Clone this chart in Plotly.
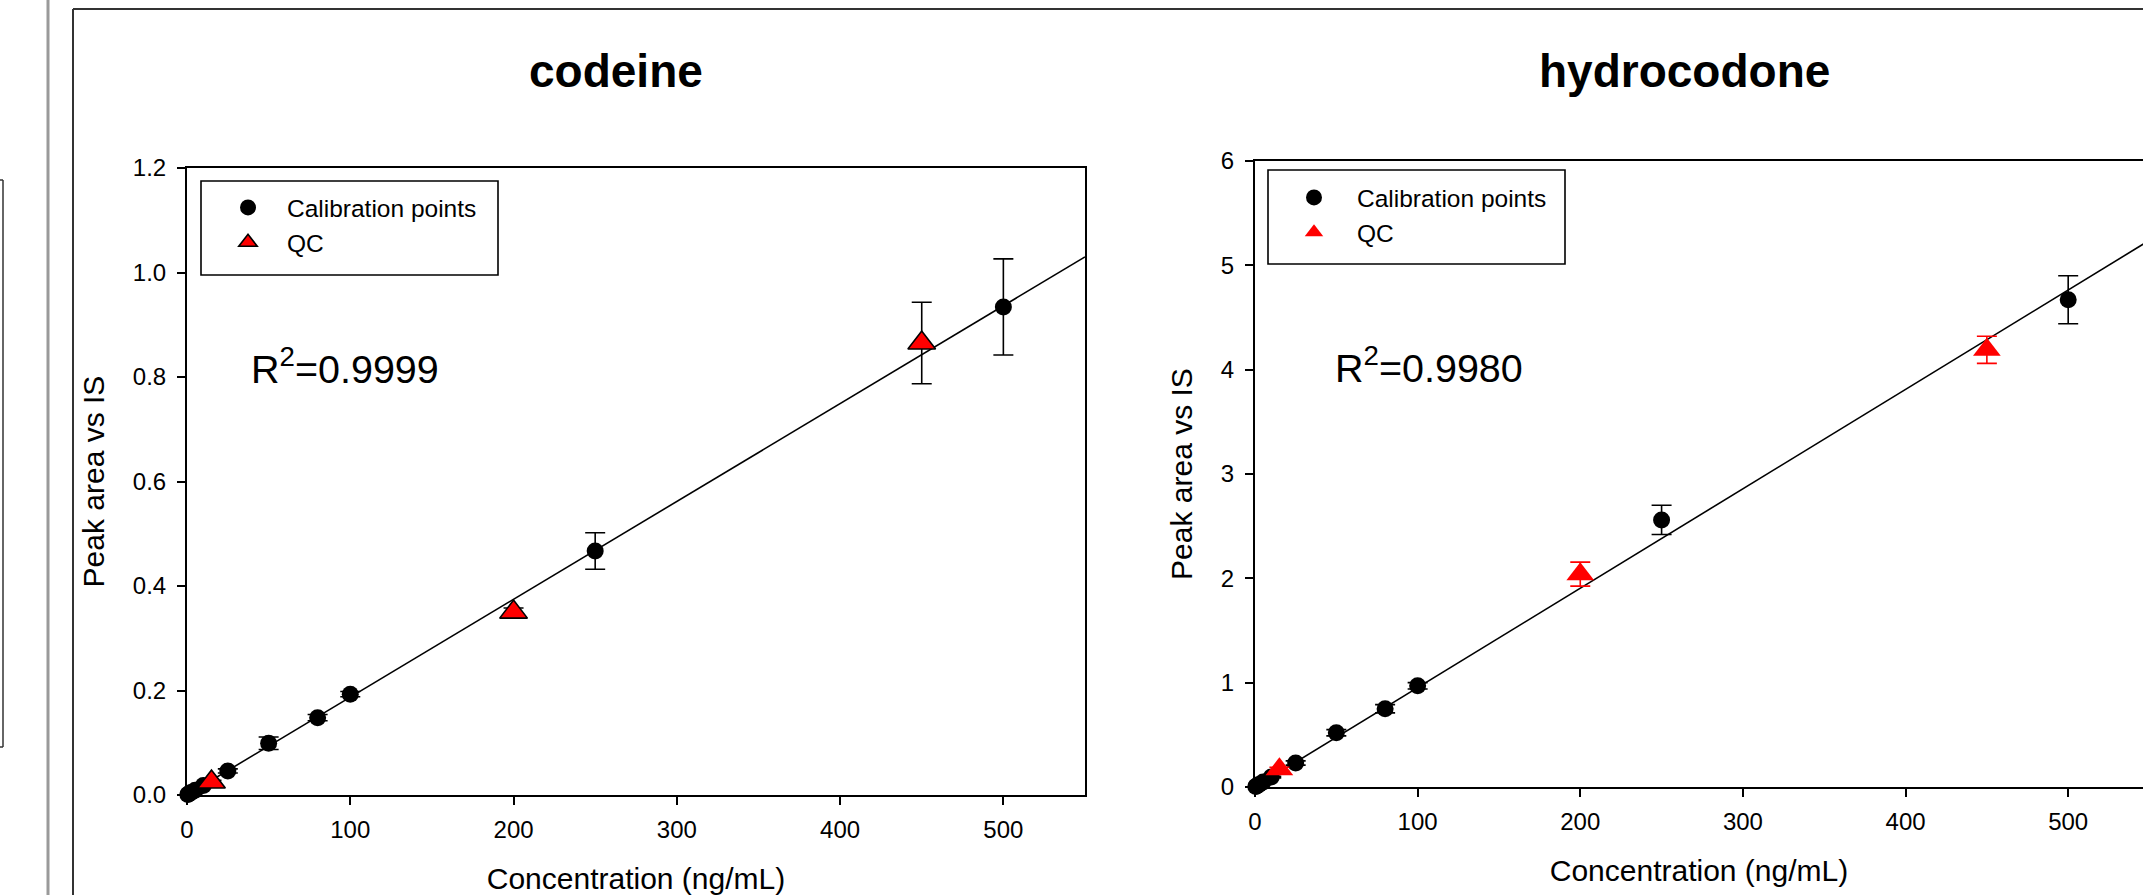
import plotly.graph_objects as go

W, H = 2143, 895

# ---- data ----
conc_cal = [0.5, 1, 2.5, 5, 10, 25, 50, 80, 100, 250, 500]
conc_qc = [15, 200, 450]

codeine_cal_y = [0.001, 0.002, 0.005, 0.009, 0.018, 0.046, 0.099, 0.148, 0.193, 0.467, 0.934]
codeine_cal_err = [0.0005, 0.0005, 0.001, 0.001, 0.002, 0.004, 0.012, 0.006, 0.005, 0.035, 0.092]
codeine_qc_y = [0.025, 0.350, 0.865]
codeine_qc_err = [0.003, 0.008, 0.078]
codeine_fit_x = [0, 550]
codeine_fit_y = [0.0, 1.03]
codeine_r2 = "0.9999"

hydro_cal_y = [0.005, 0.010, 0.024, 0.048, 0.095, 0.23, 0.52, 0.75, 0.97, 2.56, 4.67]
hydro_cal_err = [0.002, 0.003, 0.004, 0.005, 0.008, 0.02, 0.03, 0.04, 0.03, 0.14, 0.23]
hydro_qc_y = [0.17, 2.04, 4.19]
hydro_qc_err = [0.02, 0.115, 0.13]
hydro_fit_x = [0, 550]
hydro_fit_y = [0.0, 5.24]
hydro_r2 = "0.9980"

titles = ["codeine", "hydrocodone"]
x_title = "Concentration (ng/mL)"
y_title = "Peak area vs IS"
x_ticks = [0, 100, 200, 300, 400, 500]
codeine_y_ticks = [0.0, 0.2, 0.4, 0.6, 0.8, 1.0, 1.2]
hydro_y_ticks = [0, 1, 2, 3, 4, 5, 6]

FONT = "Liberation Sans, Arial, sans-serif"

def px(x):
    return x / W

def py(y):
    return 1 - y / H

fig = go.Figure()

# codeine
fig.add_trace(go.Scatter(x=codeine_fit_x, y=codeine_fit_y, mode="lines",
                         line=dict(color="black", width=1.6), showlegend=False,
                         xaxis="x", yaxis="y", hoverinfo="skip"))
fig.add_trace(go.Scatter(x=conc_cal, y=codeine_cal_y, mode="markers", name="Calibration points",
                         marker=dict(symbol="circle", size=17, color="black"),
                         error_y=dict(type="data", array=codeine_cal_err, color="black", thickness=1.6, width=10),
                         xaxis="x", yaxis="y", legend="legend", cliponaxis=False))
fig.add_trace(go.Scatter(x=conc_qc, y=codeine_qc_y, mode="markers", name="QC",
                         marker=dict(symbol="triangle-up", size=24, color="red",
                                     line=dict(color="black", width=1.6)),
                         error_y=dict(type="data", array=codeine_qc_err, color="black", thickness=1.6, width=10),
                         xaxis="x", yaxis="y", legend="legend", cliponaxis=False))

# hydrocodone
fig.add_trace(go.Scatter(x=hydro_fit_x, y=hydro_fit_y, mode="lines",
                         line=dict(color="black", width=1.6), showlegend=False,
                         xaxis="x2", yaxis="y2", hoverinfo="skip"))
fig.add_trace(go.Scatter(x=conc_cal, y=hydro_cal_y, mode="markers", name="Calibration points",
                         marker=dict(symbol="circle", size=17, color="black"),
                         error_y=dict(type="data", array=hydro_cal_err, color="black", thickness=1.6, width=10),
                         xaxis="x2", yaxis="y2", legend="legend2", cliponaxis=False))
fig.add_trace(go.Scatter(x=conc_qc, y=hydro_qc_y, mode="markers", name="QC",
                         marker=dict(symbol="triangle-up", size=24, color="red"),
                         error_y=dict(type="data", array=hydro_qc_err, color="red", thickness=1.6, width=10),
                         xaxis="x2", yaxis="y2", legend="legend2", cliponaxis=False))

axis_common = dict(showgrid=False, zeroline=False, showline=True, linecolor="black", linewidth=2,
                   ticks="outside", ticklen=8, tickwidth=1.6, tickcolor="black", automargin=False,
                   tickfont=dict(family=FONT, size=24, color="black"))
title_font = dict(family=FONT, size=30, color="black")

fig.update_layout(
    template="none",
    width=W, height=H, autosize=False,
    margin=dict(l=0, r=0, t=0, b=0, pad=0, autoexpand=False),
    paper_bgcolor="white", plot_bgcolor="white",
    font=dict(family=FONT, color="black"),
    xaxis=dict(domain=[px(187), px(1085)], range=[0, 550], anchor="y", mirror=True,
               tickvals=x_ticks, ticklabelstandoff=4,
               title=dict(text=x_title, font=title_font, standoff=52),
               **axis_common),
    yaxis=dict(domain=[py(795), py(168)], range=[0, 1.2], anchor="x", mirror=True,
               tickvals=codeine_y_ticks, tickformat=".1f", ticklabelstandoff=6,
               title=dict(text=y_title, font=title_font, standoff=19),
               **axis_common),
    xaxis2=dict(domain=[px(1255), 1.0], range=[0, 546], anchor="y2", mirror=True,
                tickvals=x_ticks, ticklabelstandoff=4,
                title=dict(text=x_title, font=title_font, standoff=26),
                **axis_common),
    yaxis2=dict(domain=[py(787), py(161)], range=[0, 6], anchor="x2", mirror=False,
                tickvals=hydro_y_ticks, ticklabelstandoff=6,
                title=dict(text=y_title, font=title_font, standoff=19),
                **axis_common),
    legend=dict(x=px(209), y=py(185), xanchor="left", yanchor="top", bgcolor="rgba(0,0,0,0)",
                borderwidth=0, itemwidth=68, font=dict(family=FONT, size=24.5, color="black"),
                tracegroupgap=0),
    legend2=dict(x=px(1271), y=py(175), xanchor="left", yanchor="top", bgcolor="rgba(0,0,0,0)",
                 borderwidth=0, itemwidth=76, font=dict(family=FONT, size=24.5, color="black"),
                 tracegroupgap=0),
    showlegend=True,
)

# titles and R^2 labels
fig.add_annotation(x=px(616), y=py(71), xref="paper", yref="paper", xanchor="center", yanchor="middle",
                   text="<b>%s</b>" % titles[0], showarrow=False,
                   font=dict(family=FONT, size=46, color="black"))
fig.add_annotation(x=px(1684), y=py(71), xref="paper", yref="paper", xanchor="center", yanchor="middle",
                   text="<b>%s</b>" % titles[1], showarrow=False,
                   font=dict(family=FONT, size=46, color="black"))
fig.add_annotation(x=px(249), y=py(366), xref="paper", yref="paper", xanchor="left", yanchor="middle",
                   text="R<sup>2</sup>=" + codeine_r2, showarrow=False,
                   font=dict(family=FONT, size=39.5, color="black"))
fig.add_annotation(x=px(1333), y=py(365), xref="paper", yref="paper", xanchor="left", yanchor="middle",
                   text="R<sup>2</sup>=" + hydro_r2, showarrow=False,
                   font=dict(family=FONT, size=39.5, color="black"))

# frame decorations and legend boxes
shapes = [
    dict(type="line", x0=px(48), x1=px(48), y0=0, y1=1, line=dict(color="#9a9a9a", width=3)),
    dict(type="line", x0=px(73), x1=px(73), y0=0, y1=py(9), line=dict(color="#333333", width=2)),
    dict(type="line", x0=px(73), x1=1, y0=py(9), y1=py(9), line=dict(color="#333333", width=2)),
    dict(type="line", x0=px(3), x1=px(3), y0=py(747), y1=py(180), line=dict(color="#333333", width=1.5)),
    dict(type="line", x0=0, x1=px(3), y0=py(180), y1=py(180), line=dict(color="#333333", width=1.5)),
    dict(type="line", x0=0, x1=px(3), y0=py(747), y1=py(747), line=dict(color="#333333", width=1.5)),
    dict(type="rect", x0=px(201), x1=px(498), y0=py(275), y1=py(181), line=dict(color="black", width=1.6)),
    dict(type="rect", x0=px(1268), x1=px(1565), y0=py(264), y1=py(170), line=dict(color="black", width=1.6)),
]
for s in shapes:
    s.update(xref="paper", yref="paper")
    fig.add_shape(**s)

# remove the default page margin so the figure sits at the window's top-left corner
fig.write_html("out.html", config={"displayModeBar": False},
               post_script="document.body.style.margin='0';")
